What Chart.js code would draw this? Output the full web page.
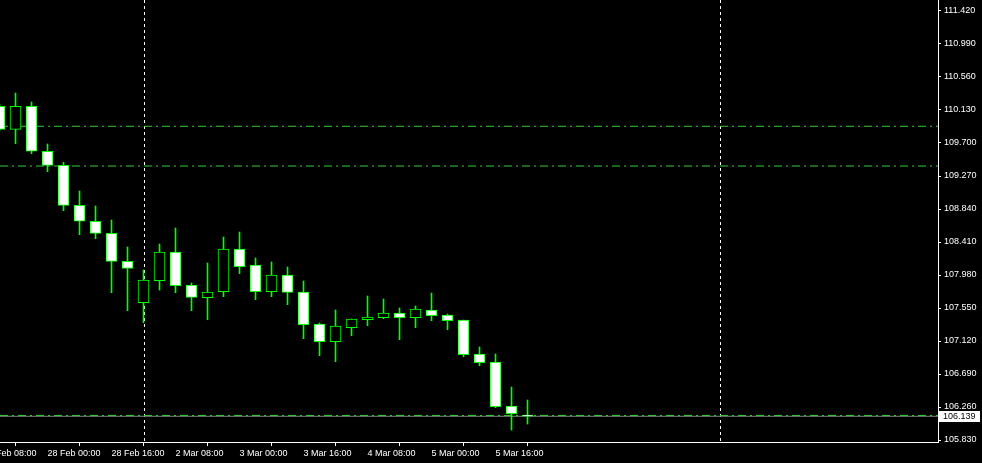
<!DOCTYPE html>
<html>
<head>
<meta charset="utf-8">
<script src="https://cdn.jsdelivr.net/npm/chart.js@4.4.1/dist/chart.umd.min.js"></script>
<style>
  html, body { margin: 0; padding: 0; background: #000; overflow: hidden; }
  canvas { display: block; background: #000; }
</style>
</head>
<body>
<canvas id="chart" width="982" height="463"></canvas>
<script>
// H4 bars, index 0 = first full bar on screen
const BAR_INDEX = [-1, 0, 1, 2, 3, 4, 5, 6, 7, 8, 9, 10, 11, 12, 13, 14, 15, 16,
  17, 18, 19, 20, 21, 22, 23, 24, 25, 26, 27, 28, 29, 30, 31, 32];

const OPEN = [110.178, 109.878, 110.178, 109.592, 109.409, 108.888, 108.680, 108.523,
  108.158, 107.619, 107.906, 108.280, 107.850, 107.684, 107.762, 108.319, 108.110,
  107.762, 107.980, 107.758, 107.341, 107.111, 107.293, 107.397, 107.423, 107.485,
  107.423, 107.524, 107.459, 107.393, 106.950, 106.846, 106.273, 106.155];
const HIGH = [110.208, 110.351, 110.234, 109.687, 109.448, 109.074, 108.879, 108.697,
  108.345, 108.045, 108.384, 108.592, 107.876, 108.136, 108.475, 108.540, 108.201,
  108.149, 108.084, 107.902, 107.354, 107.524, 107.406, 107.706, 107.667, 107.550,
  107.576, 107.745, 107.472, 107.393, 107.042, 106.950, 106.520, 106.351];
const LOW = [109.856, 109.691, 109.560, 109.326, 108.818, 108.505, 108.453, 107.749,
  107.515, 107.358, 107.784, 107.749, 107.515, 107.397, 107.697, 107.997, 107.658,
  107.697, 107.593, 107.150, 106.928, 106.850, 107.189, 107.319, 107.410, 107.137,
  107.293, 107.384, 107.267, 106.915, 106.798, 106.251, 105.960, 106.038];
const CLOSE = [109.878, 110.178, 109.592, 109.409, 108.888, 108.680, 108.523, 108.158,
  108.067, 107.915, 108.280, 107.840, 107.689, 107.758, 108.319, 108.088, 107.762,
  107.980, 107.754, 107.332, 107.111, 107.315, 107.406, 107.433, 107.485, 107.423,
  107.537, 107.449, 107.384, 106.941, 106.837, 106.264, 106.172, 106.139];

const TIME_TICKS = [-2, 2, 6, 10, 14, 18, 22, 26, 30];
const TIME_LABELS = ["27 Feb 08:00", "28 Feb 00:00", "28 Feb 16:00", "2 Mar 08:00",
  "3 Mar 00:00", "3 Mar 16:00", "4 Mar 08:00", "5 Mar 00:00", "5 Mar 16:00"];

const PRICE_TICKS = [105.830, 106.260, 106.690, 107.120, 107.550, 107.980, 108.410,
  108.840, 109.270, 109.700, 110.130, 110.560, 110.990, 111.420];

const LEVELS = [109.918, 109.400, 106.150];
const SEPARATORS = [8, 44];
const BID = 106.139;

const X_MIN = -0.96875;
const X_MAX = 57.65625;
const Y_MIN = 105.804;
const Y_MAX = 111.5633;

const GREEN = "#00ff00";
const LEVEL_GREEN = "#32cd32";
const FONT = { family: "'Liberation Sans', Arial, sans-serif", size: 9 };

const wicks = BAR_INDEX.map((x, i) => ({ x, y: [LOW[i], HIGH[i]] }));
const bodies = BAR_INDEX.map((x, i) => ({ x, y: [OPEN[i], CLOSE[i]] }));
const bodyFill = BAR_INDEX.map((_, i) => (CLOSE[i] < OPEN[i] ? "#ffffff" : "#000000"));

const levelSets = LEVELS.map((v) => ({
  type: "line",
  data: [{ x: X_MIN, y: v }, { x: X_MAX, y: v }],
  borderColor: LEVEL_GREEN,
  borderWidth: 1,
  borderDash: [8, 4, 2, 4],
  pointRadius: 0,
  order: 3,
}));

const bidLine = {
  type: "line",
  data: [{ x: X_MIN, y: BID }, { x: X_MAX, y: BID }],
  borderColor: "#808080",
  borderWidth: 1,
  pointRadius: 0,
  order: 4,
};

function noPadding(scale) {
  scale.paddingLeft = 0;
  scale.paddingRight = 0;
  scale.paddingTop = 0;
  scale.paddingBottom = 0;
}

const separatorPlugin = {
  id: "separators",
  beforeDatasetsDraw(chart) {
    const { ctx, chartArea, scales } = chart;
    ctx.save();
    ctx.strokeStyle = "#ffffff";
    ctx.lineWidth = 1;
    ctx.setLineDash([3, 3]);
    for (const s of SEPARATORS) {
      const x = Math.round(scales.x.getPixelForValue(s)) + 0.5;
      ctx.beginPath();
      ctx.moveTo(x, chartArea.top);
      ctx.lineTo(x, chartArea.bottom);
      ctx.stroke();
    }
    ctx.restore();
  },
};

const bidPlugin = {
  id: "bidLabel",
  afterDraw(chart) {
    const { ctx, chartArea, scales } = chart;
    const y = Math.round(scales.y.getPixelForValue(BID));
    ctx.save();
    ctx.fillStyle = "#ffffff";
    ctx.fillRect(chartArea.right + 1, y - 5, 41, 11);
    ctx.fillStyle = "#000000";
    ctx.font = `${FONT.size}px ${FONT.family}`;
    ctx.textBaseline = "middle";
    ctx.fillText(BID.toFixed(3), chartArea.right + 5, y + 0.5);
    ctx.restore();
  },
};

new Chart(document.getElementById("chart"), {
  type: "bar",
  data: {
    datasets: [
      {
        data: bodies,
        backgroundColor: bodyFill,
        borderColor: GREEN,
        borderWidth: 1,
        borderSkipped: false,
        barThickness: 11,
        grouped: false,
        order: 1,
      },
      {
        data: wicks,
        backgroundColor: GREEN,
        borderWidth: 0,
        barThickness: 1,
        grouped: false,
        order: 2,
      },
      ...levelSets,
      bidLine,
    ],
  },
  options: {
    responsive: false,
    animation: false,
    events: [],
    layout: { padding: 0, autoPadding: false },
    plugins: {
      legend: { display: false },
      tooltip: { enabled: false },
    },
    scales: {
      x: {
        type: "linear",
        min: X_MIN,
        max: X_MAX,
        offset: false,
        grid: {
          drawOnChartArea: false,
          drawTicks: true,
          tickLength: 4,
          color: "#ffffff",
        },
        border: { display: true, color: "#ffffff", width: 1 },
        ticks: {
          color: "#ffffff",
          font: FONT,
          padding: 2,
          align: "start",
          autoSkip: false,
          maxRotation: 0,
          minRotation: 0,
          callback: (value) => TIME_LABELS[TIME_TICKS.indexOf(value)],
        },
        afterBuildTicks: (scale) => {
          scale.ticks = TIME_TICKS.map((value) => ({ value }));
        },
        afterFit: (scale) => {
          scale.height = 21;
          noPadding(scale);
        },
      },
      y: {
        position: "right",
        min: Y_MIN,
        max: Y_MAX,
        grid: {
          drawOnChartArea: false,
          drawTicks: true,
          tickLength: 3,
          color: "#ffffff",
        },
        border: { display: true, color: "#ffffff", width: 1 },
        ticks: {
          color: "#ffffff",
          font: FONT,
          padding: 3,
          autoSkip: false,
          callback: (value) => Number(value).toFixed(3),
        },
        afterBuildTicks: (scale) => {
          scale.ticks = PRICE_TICKS.map((value) => ({ value }));
        },
        afterFit: (scale) => {
          scale.width = 44;
          noPadding(scale);
        },
      },
    },
  },
  plugins: [separatorPlugin, bidPlugin],
});
</script>
</body>
</html>
